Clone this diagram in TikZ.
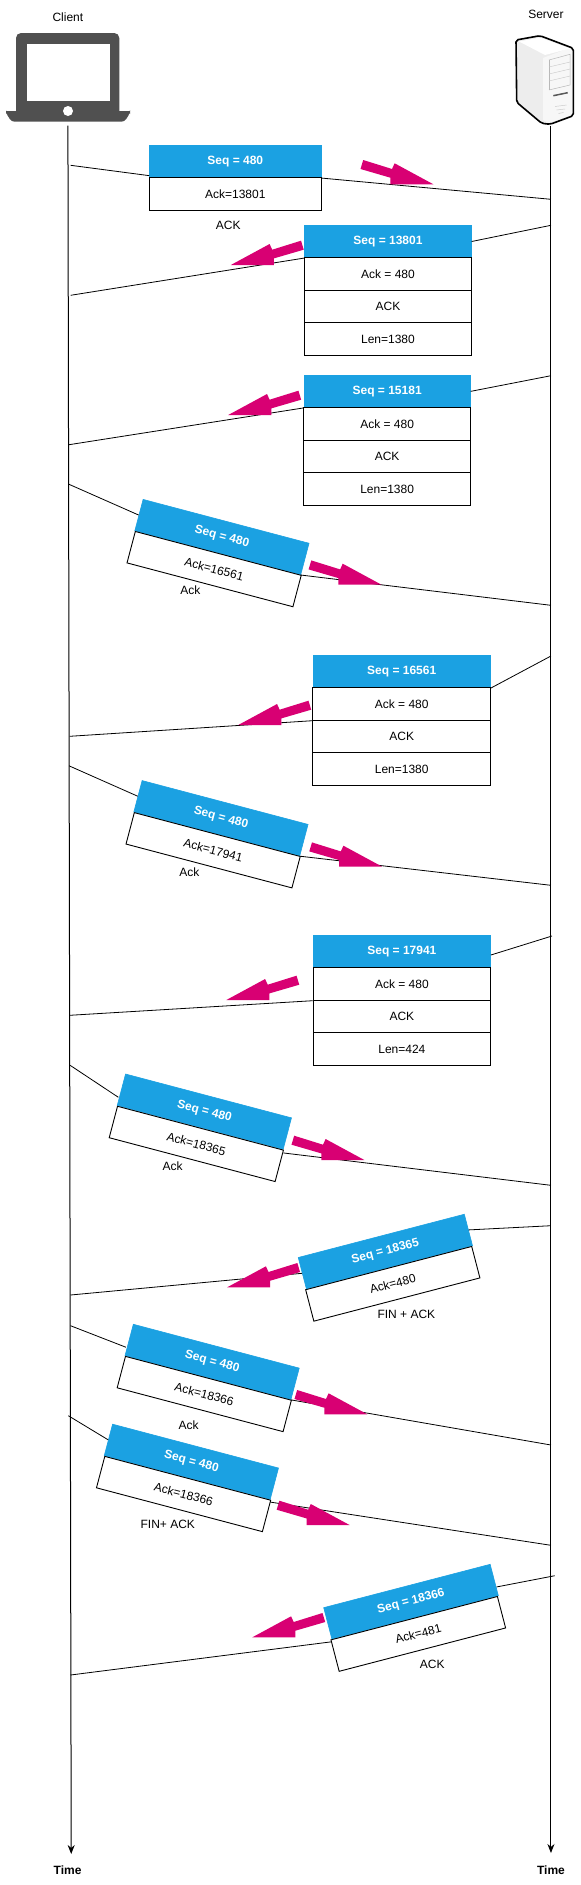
\documentclass[tikz,border=0pt]{standalone}
\usepackage{fontspec}
\setmainfont{Liberation Sans}
\usetikzlibrary{arrows.meta}
\definecolor{seqblue}{HTML}{1BA1E2}
\definecolor{pinkfill}{HTML}{D80073}
\definecolor{laptopgrey}{HTML}{505050}
\tikzset{
  lbl/.style={font=\fontsize{12}{14}\selectfont,inner sep=0pt,text=black},
  timelbl/.style={lbl,font=\fontsize{12}{14}\selectfont\bfseries},
  seqbox/.style={rectangle,fill=seqblue,draw=seqblue,line width=0.6pt,inner sep=0pt,text=white,
    font=\fontsize{12}{14}\selectfont\bfseries,minimum width=#1,minimum height=32.5pt},
  fieldbox/.style={rectangle,fill=white,draw=black,line width=0.9pt,inner sep=0pt,text=black,
    font=\fontsize{12}{14}\selectfont,minimum width=#1,minimum height=32.5pt},
  msgline/.style={draw=black,line width=0.8pt},
  lifeline/.style={draw=black,line width=1pt,-{Stealth[length=9pt,width=7pt]}}
}
\newcommand\pinkarrow[3]{\fill[pinkfill,shift={(#2,#3)},xscale=#1] (-70.6,-24.3) -- (-41.6,-15.3) -- (-39,-21) -- (0,0) -- (-43.3,0) -- (-43.3,-6.6) -- (-73.3,-15.3) -- cycle;}
\begin{document}
\begin{tikzpicture}[x=0.9945pt,y=-1pt]
\useasboundingbox (0,0) rectangle (584.2,1885);
\fill[white] (0,0) rectangle (584.2,1885);

\begin{scope}[x=1pt]
% laptop
\fill[laptopgrey,rounded corners=5pt] (16,33) rectangle (119.3,116);
\fill[white] (26.5,44) rectangle (109.5,100.7);
\fill[laptopgrey,rounded corners=3pt] (6,111) -- (130,111) -- (130,113) -- (124.5,121.7) -- (11.5,121.7) -- (6,113) -- cycle;
\fill[laptopgrey] (6,111) rectangle (130,113);
\fill[white] (68,111) circle (5pt);
% server
\fill[black!7,rounded corners=2pt] (516,40) -- (540,35.7) -- (573.3,48.3) -- (573.3,115.7) -- (550,124.3) -- (541.7,123.3) -- (516.7,102.3) -- cycle;
\fill[black!3] (543,58) -- (572,47) -- (572,115) -- (549,123) -- (543,120) -- cycle;
\fill[white] (519,41.5) -- (540,37.5) -- (570,48.5) -- (545,55) -- cycle;
\draw[black!28,line width=0.5pt] (549,60) -- (570,54.3) -- (570,85) -- (549,90);
\draw[black!28,line width=0.5pt] (549,60) -- (549,90);
\foreach \yy in {67,74,81}{\draw[black!22,line width=0.4pt] (549,\yy) -- (570,\yy-5);}
\draw[black!65,line width=1.5pt] (553.3,95.7) -- (567.7,92.7);
\draw[black!20,line width=0.5pt] (555,106.5) -- (566.7,105);
\draw[black!20,line width=0.5pt] (556.5,110) -- (565,109);
\draw[black!20,line width=0.5pt] (558.5,113.5) -- (563.5,112.5);
\draw[black,line width=1.6pt,rounded corners=2pt] (516,40) -- (540,35.7) -- (573.3,48.3) -- (573.3,115.7) -- (550,124.3) -- (541.7,123.3) -- (516.7,102.3) -- cycle;
\end{scope}

\node[lbl] (clientlbl) at (68.3,17.3) {Client};
\node[lbl] (serverlbl) at (549,14.7) {Server};

% lifelines
\coordinate (clientTop) at (68.3,125.5);
\coordinate (clientEnd) at (71.6,1854);
\coordinate (serverTop) at (554,125.5);
\coordinate (serverEnd) at (554,1853);
\draw[lifeline] (clientTop) -- (clientEnd);
\draw[lifeline] (serverTop) -- (serverEnd);
\node[timelbl] (timeC) at (68,1870) {Time};
\node[timelbl] (timeS) at (554,1870) {Time};

% named ends on the lifelines
\coordinate (c1) at (71,165.3);   \coordinate (s1) at (554,199.3);
\coordinate (s2) at (554,225.3);  \coordinate (c2) at (71,295.3);
\coordinate (s3) at (554,375.7);  \coordinate (c3) at (69.4,444.7);
\coordinate (c4) at (69.4,484.3); \coordinate (s4) at (554,605.3);
\coordinate (s5) at (554,656);    \coordinate (c5) at (70,736.3);
\coordinate (c6) at (69.4,765.8); \coordinate (s6) at (554,885.3);
\coordinate (s7) at (555,936);    \coordinate (c7) at (70,1015.3);
\coordinate (c8) at (70.5,1065.3);\coordinate (s8) at (554,1185.3);
\coordinate (s9) at (554,1225.7); \coordinate (c9) at (70.9,1295);
\coordinate (c10) at (70.9,1325.7);\coordinate (s10) at (554,1445);
\coordinate (c11) at (68.7,1415.7);\coordinate (s11) at (554,1545.3);
\coordinate (s12) at (557.8,1575.7);\coordinate (c12) at (70.9,1675);

% message boxes
\node[seqbox=171.5pt] (m1seq) at (236.6,161.5) {Seq = 480};
\node[fieldbox=171.5pt] (m1ack) at (236.6,194) {Ack=13801};
\node[lbl] (m1lbl) at (229.5,225) {ACK};

\node[seqbox=166.7pt] (m2seq) at (390.1,241.5) {Seq = 13801};
\node[fieldbox=166.7pt] (m2ack) at (390.1,274) {Ack = 480};
\node[fieldbox=166.7pt] (m2flag) at (390.1,306.5) {ACK};
\node[fieldbox=166.7pt] (m2len) at (390.1,339) {Len=1380};

\node[seqbox=166.5pt] (m3seq) at (389.3,391.35) {Seq = 15181};
\node[fieldbox=166.5pt] (m3ack) at (389.3,424) {Ack = 480};
\node[fieldbox=166.5pt] (m3flag) at (389.3,456.5) {ACK};
\node[fieldbox=166.5pt] (m3len) at (389.3,489) {Len=1380};

\node[seqbox=171.6pt,rotate=-14.8] (m4seq) at (223.15,537.05) {Seq = 480};
\node[fieldbox=171.6pt,rotate=-14.8] (m4ack) at (215.3,569.1) {Ack=16561};
\node[lbl] (m4lbl) at (191.4,590.7) {Ack};

\node[seqbox=177.7pt] (m5seq) at (403.95,671.5) {Seq = 16561};
\node[fieldbox=177.7pt] (m5ack) at (403.95,704) {Ack = 480};
\node[fieldbox=177.7pt] (m5flag) at (403.95,736.5) {ACK};
\node[fieldbox=177.7pt] (m5len) at (403.95,769) {Len=1380};

\node[seqbox=171.6pt,rotate=-14.8] (m6seq) at (222.15,818.2) {Seq = 480};
\node[fieldbox=171.6pt,rotate=-14.8] (m6ack) at (214.3,850.25) {Ack=17941};
\node[lbl] (m6lbl) at (190.3,871.7) {Ack};

\node[seqbox=177.4pt] (m7seq) at (404.1,951.5) {Seq = 17941};
\node[fieldbox=177.4pt] (m7ack) at (404.1,984) {Ack = 480};
\node[fieldbox=177.4pt] (m7flag) at (404.1,1016.5) {ACK};
\node[fieldbox=177.4pt] (m7len) at (404.1,1049) {Len=424};

\node[seqbox=171.6pt,rotate=-14.8] (m8seq) at (205.5,1111.65) {Seq = 480};
\node[fieldbox=171.6pt,rotate=-14.8] (m8ack) at (197.4,1143.9) {Ack=18365};
\node[lbl] (m8lbl) at (173.5,1165.7) {Ack};

\node[seqbox=171.6pt,rotate=14.6] (m9seq) at (387.5,1251.6) {Seq = 18365};
\node[fieldbox=171.6pt,rotate=14.6] (m9ack) at (394.95,1283.8) {Ack=480};
\node[lbl] (m9lbl) at (408.6,1314.7) {FIN + ACK};

\node[seqbox=171.6pt,rotate=-14.8] (m10seq) at (213.3,1361.9) {Seq = 480};
\node[fieldbox=171.6pt,rotate=-14.8] (m10ack) at (205.4,1394) {Ack=18366};
\node[lbl] (m10lbl) at (189.6,1424.7) {Ack};

\node[seqbox=171.6pt,rotate=-14.8] (m11seq) at (192.45,1461.8) {Seq = 480};
\node[fieldbox=171.6pt,rotate=-14.8] (m11ack) at (184.6,1494) {Ack=18366};
\node[lbl] (m11lbl) at (168.7,1524.7) {FIN+ ACK};

\node[seqbox=172pt,rotate=14.6] (m12seq) at (413.3,1601.7) {Seq = 18366};
\node[fieldbox=172pt,rotate=14.6] (m12ack) at (420.6,1633.9) {Ack=481};
\node[lbl] (m12lbl) at (434.7,1664.7) {ACK};

% connectors
\draw[msgline] (c1) -- ([yshift=2.4pt]m1seq.south west);
\draw[msgline] (m1seq.south east) -- (s1);
\draw[msgline] (s2) -- (m2seq.east);
\draw[msgline] (m2seq.south west) -- (c2);
\draw[msgline] (s3) -- (m3seq.east);
\draw[msgline] (m3seq.south west) -- (c3);
\draw[msgline] (c4) -- (m4seq.west);
\draw[msgline] (m4seq.south east) -- (s4);
\draw[msgline] (s5) -- (m5seq.south east);
\draw[msgline] (m5ack.south west) -- (c5);
\draw[msgline] (c6) -- (m6seq.west);
\draw[msgline] (m6seq.south east) -- (s6);
\draw[msgline] (s7) -- ([yshift=-3.5pt]m7seq.east);
\draw[msgline] (m7ack.south west) -- (c7);
\draw[msgline] (c8) -- ([xshift=-2.8pt,yshift=-7.6pt]m8seq.west);
\draw[msgline] ([yshift=-3.3pt]m8seq.south east) -- (s8);
\draw[msgline] (s9) -- (m9seq.east);
\draw[msgline] (m9seq.west) -- (c9);
\draw[msgline] (c10) -- ([xshift=-3pt,yshift=-7.3pt]m10seq.west);
\draw[msgline] (m10seq.south east) -- (s10);
\draw[msgline] (c11) -- (m11seq.west);
\draw[msgline] ([yshift=-2.3pt]m11seq.south east) -- (s11);
\draw[msgline] (s12) -- ([xshift=2pt,yshift=-7pt]m12seq.east);
\draw[msgline] ([yshift=-2.3pt]m12seq.south west) -- (c12);

% block arrows
\pinkarrow{1}{435.8}{184.3}
\pinkarrow{-1}{232.1}{265}
\pinkarrow{-1}{229.5}{415}
\pinkarrow{1}{383.6}{584.7}
\pinkarrow{-1}{239.6}{725}
\pinkarrow{1}{384.3}{866.7}
\pinkarrow{-1}{227.6}{1000}
\pinkarrow{1}{366.4}{1160}
\pinkarrow{-1}{228.4}{1287.3}
\pinkarrow{1}{369.4}{1414.3}
\pinkarrow{1}{351.5}{1525}
\pinkarrow{-1}{253.7}{1637.3}
\end{tikzpicture}
\end{document}
